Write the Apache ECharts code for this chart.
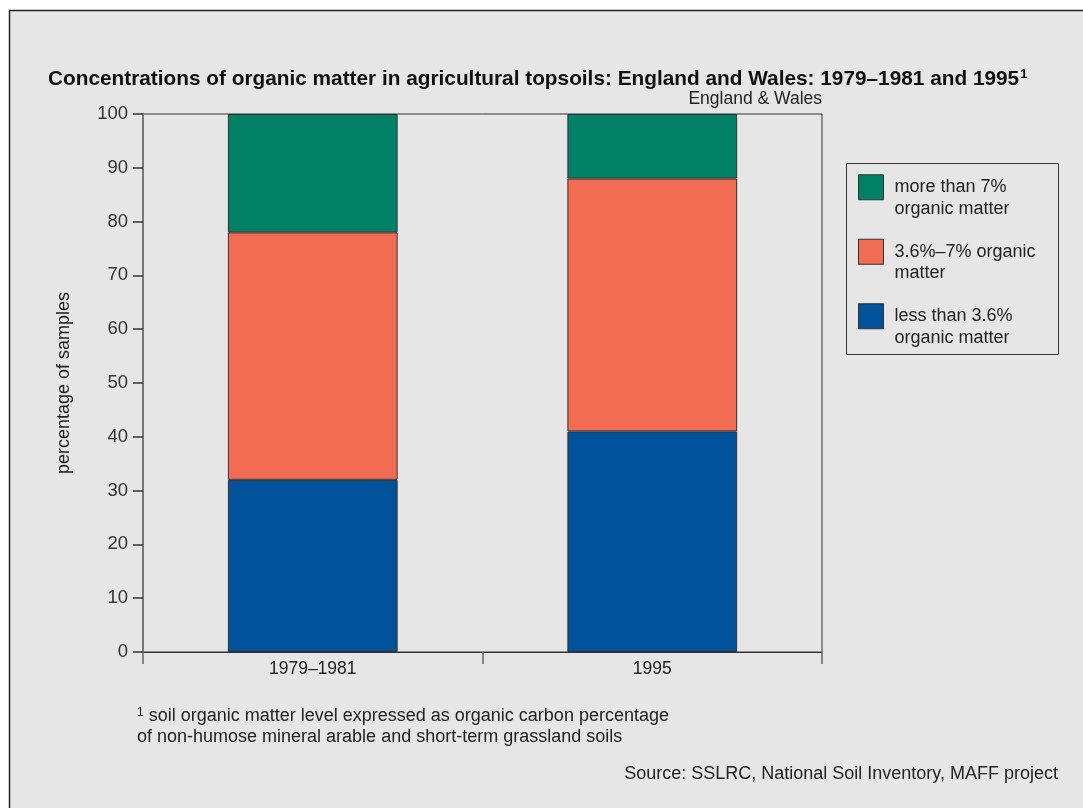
<!DOCTYPE html>
<html>
<head>
<meta charset="utf-8">
<script src="https://cdn.jsdelivr.net/npm/echarts@6/dist/echarts.min.js"></script>
<style>
html,body{margin:0;padding:0;background:#ffffff;}
#c{width:1083px;height:808px;}
</style>
</head>
<body>
<div id="c"></div>
<script>
const categories = ['1979–1981', '1995'];
const lessThan36 = [32, 41];
const between36and7 = [46, 47];
const moreThan7 = [22, 12];
const seriesNames = ['less than 3.6%\norganic matter', '3.6%–7% organic\nmatter', 'more than 7%\norganic matter'];
const legendOrder = [seriesNames[2], seriesNames[1], seriesNames[0]];
const colors = ['#02529b', '#f26c53', '#008064'];

const FONT = '"Liberation Sans", Arial, Helvetica, sans-serif';
const chart = echarts.init(document.getElementById('c'), null, {renderer: 'canvas'});

const barStyle = (c) => ({color: c, borderColor: '#333333', borderWidth: 1});

chart.setOption({
  backgroundColor: '#ffffff',
  textStyle: {fontFamily: FONT},
  animation: false,
  graphic: [
    {type: 'rect', z: -10, shape: {x: 9.5, y: 10.5, width: 1100, height: 820},
     style: {fill: '#e6e6e6', stroke: '#222222', lineWidth: 1.5}},
    {type: 'rect', z: 10, shape: {x: 846.5, y: 163.5, width: 212, height: 191},
     style: {fill: 'none', stroke: '#333333', lineWidth: 1}}
  ],
  title: [
    {text: 'Concentrations of organic matter in agricultural topsoils: England and Wales: 1979–1981 and 1995{s|1}',
     left: 48, top: 68, padding: 0,
     textStyle: {fontFamily: FONT, fontSize: 20.8, fontWeight: 'bold', color: '#111111',
       rich: {s: {fontFamily: FONT, fontSize: 13, fontWeight: 'bold', color: '#111111', padding: [0,0,10,1]}}}},
    {text: 'England & Wales', right: 1083 - 822, top: 90, padding: 0,
     textStyle: {fontFamily: FONT, fontSize: 17.5, fontWeight: 'normal', color: '#222222'}},
    {text: '{s|1} soil organic matter level expressed as organic carbon percentage\nof non-humose mineral arable and short-term grassland soils',
     left: 137, top: 706, padding: 0,
     textStyle: {fontFamily: FONT, fontSize: 18, fontWeight: 'normal', color: '#222222', lineHeight: 20.5,
       rich: {s: {fontFamily: FONT, fontSize: 12, color: '#222222', padding: [0,0,8,0]}}}},
    {text: 'Source: SSLRC, National Soil Inventory, MAFF project',
     right: 1083 - 1058, top: 765, padding: 0,
     textStyle: {fontFamily: FONT, fontSize: 18, fontWeight: 'normal', color: '#222222'}}
  ],
  legend: {
    orient: 'vertical',
    left: 846 + 12, top: 155,
    padding: 0,
    itemWidth: 25, itemHeight: 25,
    itemGap: 0,
    borderWidth: 0,
    data: legendOrder.map(n => ({name: n, icon: 'rect'})),
    formatter: (name) => '\n' + name,
    itemStyle: {borderColor: '#333333', borderWidth: 1},
    textStyle: {fontFamily: FONT, fontSize: 18, color: '#222222', lineHeight: 21.5, padding: [0,0,0,6]}
  },
  grid: {left: 143, right: 1083 - 822, top: 114, bottom: 808 - 652,
    show: true, borderColor: '#333333', borderWidth: 1, backgroundColor: 'transparent'},
  xAxis: {
    type: 'category', data: categories,
    axisLine: {show: true, lineStyle: {color: '#333333', width: 1}},
    axisTick: {show: true, alignWithLabel: false, length: 12, lineStyle: {color: '#666666', width: 1.5}},
    axisLabel: {fontFamily: FONT, fontSize: 17.5, color: '#222222', margin: 8},
    splitLine: {show: false}
  },
  yAxis: {
    type: 'value', min: 0, max: 100, interval: 10,
    name: 'percentage of samples', nameLocation: 'middle', nameGap: 70, nameRotate: 90,
    nameTextStyle: {fontFamily: FONT, fontSize: 18, color: '#222222'},
    axisLine: {show: true, lineStyle: {color: '#777777', width: 2}},
    axisTick: {show: true, length: 10, lineStyle: {color: '#333333', width: 1.5}},
    axisLabel: {fontFamily: FONT, fontSize: 18.5, color: '#333333', margin: 15},
    splitLine: {show: false}
  },
  series: [
    {name: seriesNames[0], type: 'bar', stack: 'a', data: lessThan36, barWidth: '50%', itemStyle: barStyle(colors[0])},
    {name: seriesNames[1], type: 'bar', stack: 'a', data: between36and7, barWidth: '50%', itemStyle: barStyle(colors[1])},
    {name: seriesNames[2], type: 'bar', stack: 'a', data: moreThan7, barWidth: '50%', itemStyle: barStyle(colors[2])}
  ]
});
</script>
</body>
</html>
